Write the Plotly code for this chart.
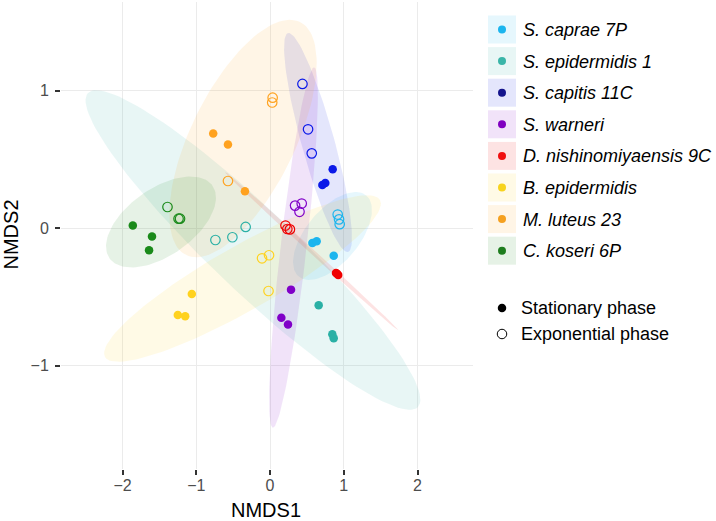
import numpy as np
import plotly.graph_objects as go

# ---------------- data ----------------
species = ["S. caprae 7P", "S. epidermidis 1", "S. capitis 11C", "S. warneri",
           "D. nishinomiyaensis 9C", "B. epidermidis", "M. luteus 23", "C. koseri 6P"]
point_colors = ["#1CB5EE", "#2AB0A5", "#0A18E8", "#8000C8",
                "#F00000", "#FFD21F", "#FFA21F", "#1A8A1A"]
legend_dot_colors = ["#1CB5EE", "#3AB5A8", "#14148C", "#8000C0",
                     "#F01010", "#F7D31E", "#F5A020", "#1E7D1E"]

# stationary phase (filled) NMDS coordinates
stat_x = {
    "S. caprae 7P": [0.575, 0.633, 0.864],
    "S. epidermidis 1": [0.66, 0.845, 0.864],
    "S. capitis 11C": [0.85, 0.75, 0.71],
    "S. warneri": [0.285, 0.154, 0.244],
    "D. nishinomiyaensis 9C": [0.895, 0.91, 0.925],
    "B. epidermidis": [-1.06, -1.25, -1.15],
    "M. luteus 23": [-0.77, -0.57, -0.34],
    "C. koseri 6P": [-1.86, -1.60, -1.64],
}
stat_y = {
    "S. caprae 7P": [-0.107, -0.095, -0.20],
    "S. epidermidis 1": [-0.56, -0.77, -0.80],
    "S. capitis 11C": [0.43, 0.33, 0.315],
    "S. warneri": [-0.446, -0.65, -0.70],
    "D. nishinomiyaensis 9C": [-0.325, -0.33, -0.34],
    "B. epidermidis": [-0.478, -0.63, -0.64],
    "M. luteus 23": [0.69, 0.61, 0.27],
    "C. koseri 6P": [0.02, -0.06, -0.16],
}
# exponential phase (open) NMDS coordinates
expo_x = {
    "S. caprae 7P": [0.918, 0.936, 0.945],
    "S. epidermidis 1": [-0.74, -0.51, -0.33],
    "S. capitis 11C": [0.44, 0.516, 0.566],
    "S. warneri": [0.34, 0.43, 0.40],
    "D. nishinomiyaensis 9C": [0.21, 0.235, 0.27],
    "B. epidermidis": [-0.108, -0.013, -0.02],
    "M. luteus 23": [-0.57, 0.036, 0.03],
    "C. koseri 6P": [-1.39, -1.24, -1.22],
}
expo_y = {
    "S. caprae 7P": [0.10, 0.065, 0.03],
    "S. epidermidis 1": [-0.085, -0.065, 0.01],
    "S. capitis 11C": [1.05, 0.72, 0.545],
    "S. warneri": [0.165, 0.18, 0.12],
    "D. nishinomiyaensis 9C": [0.02, -0.005, -0.008],
    "B. epidermidis": [-0.218, -0.196, -0.456],
    "M. luteus 23": [0.344, 0.95, 0.915],
    "C. koseri 6P": [0.155, 0.07, 0.07],
}

# 95% confidence ellipses: centre and two conjugate
# semi-diameters, all in NMDS units, in species order
ell_cx = [0.847, -0.231, 0.651, 0.319, 0.563, -0.373, -0.366, -1.478]
ell_cy = [-0.056, -0.158, 0.624, -0.140, -0.165, -0.365, 0.653, 0.046]
ell_ux = [0.458, 2.237, 0.407, 0.280, 1.173, 1.864, 0.773, 0.698]
ell_uy = [0.295, -1.142, -0.796, 1.310, -0.575, 0.571, 0.847, 0.264]
ell_vx = [0.276, 0.385, 0.215, 0.175, 0.023, 0.215, 0.633, 0.261]
ell_vy = [-0.124, 0.217, 0.032, -0.011, 0.013, -0.202, -0.167, -0.199]

phase_labels = ["Stationary phase", "Exponential phase"]
x_ticks = [-2, -1, 0, 1, 2]
y_ticks = [-1, 0, 1]


def rgba(hexc, a):
    h = hexc.lstrip("#")
    return "rgba(%d,%d,%d,%.3f)" % (int(h[0:2], 16), int(h[2:4], 16), int(h[4:6], 16), a)


FONT = "Liberation Sans, Arial, Helvetica, sans-serif"
W, H = 716, 521
panel = dict(l=61, r=473, t=2, b=469)

fig = go.Figure()

# ellipses
t = np.linspace(0, 2 * np.pi, 121)
for i, (sp, col) in enumerate(zip(species, point_colors)):
    ex = ell_cx[i] + np.cos(t) * ell_ux[i] + np.sin(t) * ell_vx[i]
    ey = ell_cy[i] + np.cos(t) * ell_uy[i] + np.sin(t) * ell_vy[i]
    fig.add_trace(go.Scatter(x=ex, y=ey, mode="lines", fill="toself",
                             fillcolor=rgba(col, 0.11), line=dict(width=0),
                             hoverinfo="skip", showlegend=False))

# points
for sp, col in zip(species, point_colors):
    fig.add_trace(go.Scatter(x=stat_x[sp], y=stat_y[sp], mode="markers",
                             marker=dict(symbol="circle", size=8.5, color=col, line=dict(width=0)),
                             showlegend=False, name=sp))
    fig.add_trace(go.Scatter(x=expo_x[sp], y=expo_y[sp], mode="markers",
                             marker=dict(symbol="circle-open", size=9.5, color=col,
                                         line=dict(width=1.2, color=col)),
                             showlegend=False, name=sp))

# ---------------- custom legend on an auxiliary pixel-space axis ----------------
lx0 = 480
key_left, key_right, key_h = 488, 516, 28
key_y0, key_dy = 29.5, 31.6
shapes = []
annots = []
for i, (sp, col) in enumerate(zip(species, point_colors)):
    yc = key_y0 + i * key_dy
    shapes.append(dict(type="rect", xref="x2", yref="y2", x0=key_left, x1=key_right,
                       y0=yc - key_h / 2, y1=yc + key_h / 2,
                       fillcolor=rgba(col, 0.11), line=dict(width=0), layer="below"))
    annots.append(dict(xref="x2", yref="y2", x=521, y=yc + 0.5, text="<i>%s</i>" % sp,
                       showarrow=False, xanchor="left", yanchor="middle",
                       font=dict(family=FONT, size=18, color="black")))
fig.add_trace(go.Scatter(x=[(key_left + key_right) / 2] * len(species),
                         y=[key_y0 + i * key_dy for i in range(len(species))],
                         mode="markers", xaxis="x2", yaxis="y2",
                         marker=dict(size=8, color=legend_dot_colors),
                         hoverinfo="skip", showlegend=False))
phase_y = [308, 334]
fig.add_trace(go.Scatter(x=[502], y=[phase_y[0]], mode="markers", xaxis="x2", yaxis="y2",
                         marker=dict(size=8.5, color="black"), hoverinfo="skip", showlegend=False))
fig.add_trace(go.Scatter(x=[502], y=[phase_y[1]], mode="markers", xaxis="x2", yaxis="y2",
                         marker=dict(symbol="circle-open", size=9.5, color="black",
                                     line=dict(width=1, color="black")),
                         hoverinfo="skip", showlegend=False))
for lab, yy in zip(phase_labels, phase_y):
    annots.append(dict(xref="x2", yref="y2", x=519, y=yy, text=lab, showarrow=False,
                       xanchor="left", yanchor="middle",
                       font=dict(family=FONT, size=18, color="black")))

# axis titles
annots.append(dict(xref="paper", yref="paper", x=265.5 / W, y=1 - 510 / H, text="NMDS1",
                   showarrow=False, xanchor="center", yanchor="middle",
                   font=dict(family=FONT, size=20, color="black")))
annots.append(dict(xref="paper", yref="paper", x=10.5 / W, y=1 - 235 / H, text="NMDS2",
                   showarrow=False, xanchor="center", yanchor="middle", textangle=-90,
                   font=dict(family=FONT, size=20, color="black")))

xpx_per = 73.75
x0px = 270.0
ypx_per = 137.5
y0px = 228.3
xr = [(panel["l"] - x0px) / xpx_per, (panel["r"] - x0px) / xpx_per]
yr = [(y0px - panel["b"]) / ypx_per, (y0px - panel["t"]) / ypx_per]

fig.update_layout(
    width=W, height=H, autosize=False,
    margin=dict(l=0, r=0, t=0, b=0),
    paper_bgcolor="white", plot_bgcolor="white",
    showlegend=False,
    font=dict(family=FONT),
    xaxis=dict(domain=[panel["l"] / W, panel["r"] / W], range=xr, tickvals=x_ticks,
               showgrid=True, gridcolor="#ebebeb", gridwidth=1, zeroline=False,
               ticks="outside", ticklen=5, tickwidth=1.5, tickcolor="#333333",
               ticklabelstandoff=-3,
               tickfont=dict(family=FONT, size=16, color="#4d4d4d"), showline=False,
               anchor="y"),
    yaxis=dict(domain=[1 - panel["b"] / H, 1 - panel["t"] / H], range=yr, tickvals=y_ticks,
               showgrid=True, gridcolor="#ebebeb", gridwidth=1, zeroline=False,
               ticks="outside", ticklen=5, tickwidth=1.5, tickcolor="#333333",
               ticklabelstandoff=3,
               tickfont=dict(family=FONT, size=16, color="#4d4d4d"), showline=False,
               anchor="x"),
    xaxis2=dict(domain=[lx0 / W, 1], range=[lx0, W], visible=False, anchor="y2"),
    yaxis2=dict(domain=[0, 1], range=[H, 0], visible=False, anchor="x2"),
    shapes=shapes, annotations=annots,
)

fig.write_html("out.html", config={"displayModeBar": False},
               post_script="document.body.style.margin='0';document.body.style.overflow='hidden';")
